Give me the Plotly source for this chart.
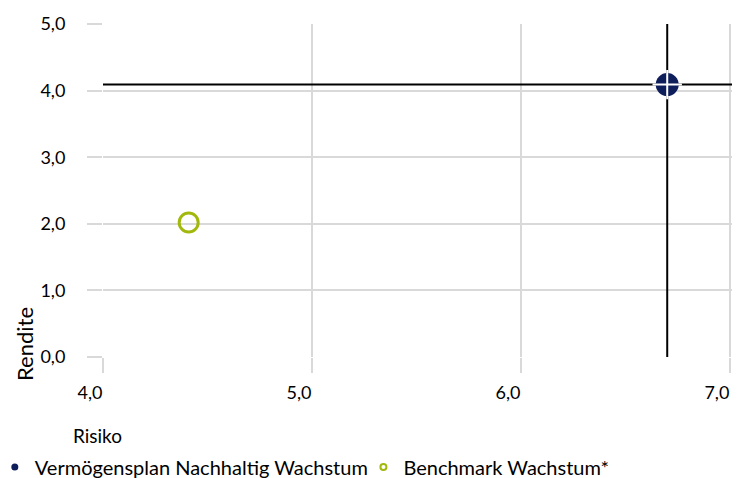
import plotly.graph_objects as go

# ---- data ----
series_names = ["Vermögensplan Nachhaltig Wachstum", "Benchmark Wachstum*"]
risiko = [6.70, 4.41]
rendite = [4.09, 2.02]
colors = ["#0e1e5b", "#a3b80c"]
x_ticks = [4.0, 5.0, 6.0, 7.0]
x_ticklabels = ["4,0", "5,0", "6,0", "7,0"]
y_ticks = [0.0, 1.0, 2.0, 3.0, 4.0, 5.0]
y_ticklabels = ["0,0", "1,0", "2,0", "3,0", "4,0", "5,0"]
x_range = [4.0, 7.01]
y_range = [0.0, 5.0]

FONT = "Lato"
fig = go.Figure()

# crosshair lines through the fund's point
fig.add_trace(go.Scatter(x=[risiko[0], risiko[0]], y=y_range, mode="lines",
                         line=dict(color="black", width=2), showlegend=False, hoverinfo="skip"))
fig.add_trace(go.Scatter(x=x_range, y=[rendite[0], rendite[0]], mode="lines",
                         line=dict(color="black", width=2), showlegend=False, hoverinfo="skip"))

# fund marker
fig.add_trace(go.Scatter(x=[risiko[0]], y=[rendite[0]], mode="markers", name=series_names[0],
                         marker=dict(color=colors[0], size=23, line=dict(width=0)),
                         showlegend=False))
# white cross inside marker
fig.add_trace(go.Scatter(x=[risiko[0]], y=[rendite[0]], mode="markers",
                         marker=dict(symbol="cross-thin", size=21, line=dict(color="white", width=2)),
                         showlegend=False, hoverinfo="skip"))
# benchmark marker
fig.add_trace(go.Scatter(x=[risiko[1]], y=[rendite[1]], mode="markers", name=series_names[1],
                         marker=dict(color="rgba(0,0,0,0)", size=19, line=dict(color=colors[1], width=3)),
                         showlegend=False))

# legend entries
fig.add_trace(go.Scatter(x=[None], y=[None], mode="markers", name=series_names[0],
                         marker=dict(color=colors[0], size=7), legend="legend"))
fig.add_trace(go.Scatter(x=[None], y=[None], mode="markers", name=series_names[1],
                         marker=dict(color="white", size=6, line=dict(color=colors[1], width=2)),
                         legend="legend2"))

legend_common = dict(orientation="h", y=-0.33, xanchor="left", yanchor="middle",
                     font=dict(family=FONT, size=20), itemsizing="trace", itemwidth=30,
                     bgcolor="rgba(0,0,0,0)")

fig.update_layout(
    width=747, height=478,
    margin=dict(l=103, r=15, t=24, b=121, autoexpand=False),
    paper_bgcolor="white", plot_bgcolor="white",
    font=dict(family=FONT, size=18, color="#000000"),
    showlegend=True,
    legend=dict(x=-0.172, **legend_common),
    legend2=dict(x=0.414, **legend_common),
    xaxis=dict(range=x_range, tickvals=x_ticks, ticktext=x_ticklabels,
               showgrid=True, gridcolor="#d9d9d9", gridwidth=2, zeroline=False, showline=False,
               ticks="outside", ticklen=15, tickwidth=2, tickcolor="#d9d9d9",
               ticklabelshift=-13, ticklabelstandoff=4, tickfont=dict(family=FONT, size=18)),
    yaxis=dict(range=y_range, tickvals=y_ticks, ticktext=y_ticklabels,
               showgrid=True, gridcolor="#d9d9d9", gridwidth=2, zeroline=False, showline=False,
               ticks="outside", ticklen=15, tickwidth=2, tickcolor="#d9d9d9",
               ticklabelstandoff=18, tickfont=dict(family=FONT, size=18)),
    annotations=[
        dict(text="Rendite", xref="paper", yref="paper", x=-0.124, y=-0.078,
             textangle=-90, showarrow=False, xanchor="center", yanchor="bottom",
             font=dict(family=FONT, size=22)),
        dict(text="Risiko", xref="paper", yref="paper", x=-0.009, y=-0.237,
             showarrow=False, xanchor="center", yanchor="middle", font=dict(family=FONT, size=19)),
    ],
)

fig.write_html("out.html", config={"displayModeBar": False},
               post_script="document.body.style.margin='0';")
